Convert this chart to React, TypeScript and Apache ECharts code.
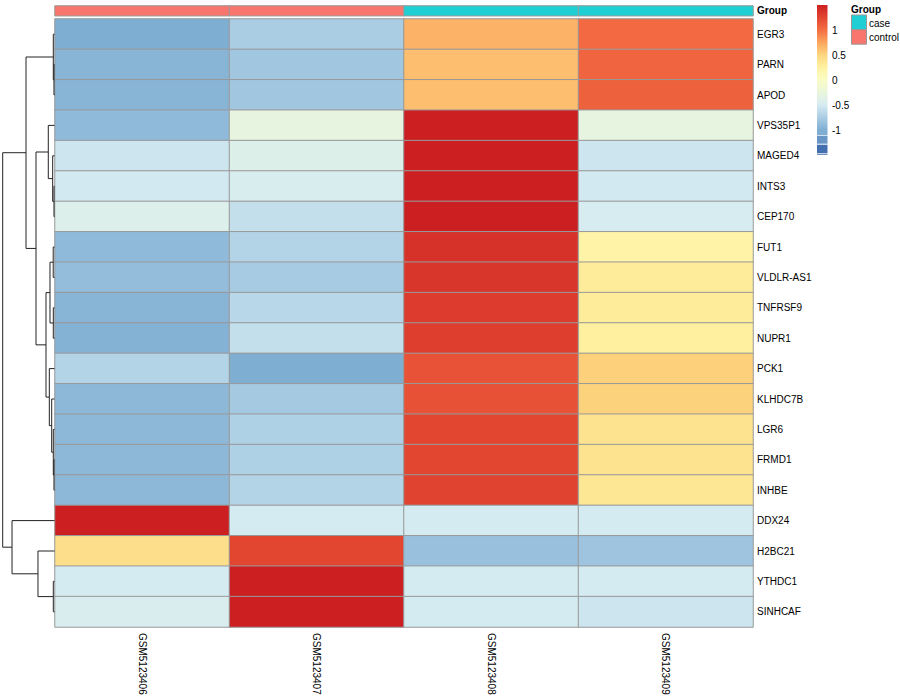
import React, { useEffect, useRef } from "react";
import * as echarts from "echarts";

const samples = ["GSM5123406", "GSM5123407", "GSM5123408", "GSM5123409"];
const groups = ["control", "control", "case", "case"];
const groupLevels = ["control", "case"];
const groupColors = ["#F8766D", "#1FCFD3"];

const genes = [
  "EGR3", "PARN", "APOD", "VPS35P1", "MAGED4", "INTS3", "CEP170", "FUT1",
  "VLDLR-AS1", "TNFRSF9", "NUPR1", "PCK1", "KLHDC7B", "LGR6", "FRMD1",
  "INHBE", "DDX24", "H2BC21", "YTHDC1", "SINHCAF",
];

// row-scaled z-scores, one array per sample (in gene order)
const gsm5123406 = [-1.0, -0.95, -0.95, -0.9, -0.55, -0.52, -0.42, -0.9, -0.88, -0.95, -0.97, -0.7, -0.92, -0.92, -0.92, -0.92, 1.5, 0.42, -0.5, -0.45];
const gsm5123407 = [-0.75, -0.8, -0.8, -0.3, -0.4, -0.46, -0.6, -0.7, -0.77, -0.67, -0.6, -1.0, -0.78, -0.72, -0.72, -0.7, -0.5, 1.25, 1.5, 1.5];
const gsm5123408 = [0.68, 0.62, 0.62, 1.5, 1.5, 1.5, 1.5, 1.38, 1.35, 1.32, 1.3, 1.17, 1.18, 1.25, 1.25, 1.27, -0.5, -0.85, -0.5, -0.5];
const gsm5123409 = [1.02, 1.06, 1.08, -0.3, -0.55, -0.52, -0.48, 0.22, 0.3, 0.3, 0.27, 0.53, 0.52, 0.39, 0.39, 0.35, -0.5, -0.82, -0.5, -0.55];
const columns = [gsm5123406, gsm5123407, gsm5123408, gsm5123409];

// row dendrogram merges: [child A, child B, height]; "mK" refers to merge K
const merges: [string, string, number][] = [
  ["PARN", "APOD", 0.1],
  ["EGR3", "m0", 0.23],
  ["INTS3", "CEP170", 0.1],
  ["MAGED4", "m2", 0.35],
  ["VPS35P1", "m3", 1.2],
  ["FUT1", "VLDLR-AS1", 0.25],
  ["TNFRSF9", "NUPR1", 0.23],
  ["m5", "m6", 0.87],
  ["FRMD1", "INHBE", 0.1],
  ["LGR6", "m8", 0.23],
  ["KLHDC7B", "m9", 0.54],
  ["PCK1", "m10", 1.0],
  ["m7", "m11", 1.64],
  ["m4", "m12", 3.57],
  ["m1", "m13", 5.5],
  ["YTHDC1", "SINHCAF", 0.23],
  ["H2BC21", "m15", 3.19],
  ["DDX24", "m16", 8.2],
  ["m14", "m17", 10],
];

// colour scale, evenly spaced from -1.5 to 1.5 (step 0.25)
const scaleMin = -1.5;
const scaleMax = 1.5;
const palette = [
  "#3A60A8", "#4A74B2", "#7FAED3", "#AACDE3", "#D5EBF2", "#EAF6DC", "#FAFCC6",
  "#FEF2A2", "#FDD680", "#FCA55E", "#F46D43", "#E24631", "#CC1F22",
];
const legendTicks = [1, 0.5, 0, -0.5, -1];
const legendGradientBottom = -1.1;
const legendBlocks = [
  { from: -1.114, to: -1.274, color: "#6A96C6" },
  { from: -1.294, to: -1.46, color: "#4470B0" },
  { from: -1.474, to: -1.494, color: "#3A60A8" },
];

const FONT = "Liberation Sans, Arial, Helvetica, sans-serif";

function buildDendro() {
  const pos: Record<string, number> = {};
  const ht: Record<string, number> = {};
  genes.forEach((g, i) => {
    pos[g] = i;
    ht[g] = 0;
  });
  const segs: number[][] = [];
  merges.forEach(([a, b, h], k) => {
    const ya = pos[a];
    const yb = pos[b];
    segs.push([h, ya, h, yb]);
    segs.push([h, ya, ht[a], ya]);
    segs.push([h, yb, ht[b], yb]);
    pos["m" + k] = (ya + yb) / 2;
    ht["m" + k] = h;
  });
  return segs;
}

export default function App() {
  const ref = useRef<HTMLDivElement>(null);
  useEffect(() => {
    if (!ref.current) return;
    const chart = echarts.init(ref.current, null, { renderer: "svg" });

    const heatData: number[][] = [];
    columns.forEach((col, ci) => col.forEach((v, ri) => heatData.push([ci, ri, v])));
    const annData = groups.map((g, i) => [i, 0, groupLevels.indexOf(g)]);

    // legend geometry (value -> y)
    const lgTop = 5;
    const lgPerUnit = 50;
    const lgX = 817;
    const lgW = 10.5;
    const yOf = (v: number) => lgTop + (scaleMax - v) * lgPerUnit;
    const step = (scaleMax - scaleMin) / (palette.length - 1);
    const span = scaleMax - legendGradientBottom;
    const stops: { offset: number; color: string }[] = [];
    palette.forEach((c, i) => {
      const v = scaleMin + i * step;
      if (v >= legendGradientBottom - 1e-9) stops.push({ offset: (scaleMax - v) / span, color: c });
    });
    stops.sort((a, b) => a.offset - b.offset);
    stops.push({ offset: 1, color: stops[stops.length - 1].color });

    const graphics: any[] = [
      {
        type: "rect",
        shape: { x: lgX, y: yOf(scaleMax), width: lgW, height: yOf(legendGradientBottom) - yOf(scaleMax) },
        style: { fill: { type: "linear", x: 0, y: 0, x2: 0, y2: 1, colorStops: stops } },
      },
      ...legendBlocks.map((b) => ({
        type: "rect",
        shape: { x: lgX, y: yOf(b.from), width: lgW, height: yOf(b.to) - yOf(b.from) },
        style: { fill: b.color },
      })),
      ...legendTicks.map((t) => ({
        type: "text",
        style: {
          text: String(t),
          x: 832,
          y: yOf(t),
          font: `10px ${FONT}`,
          fill: "#000",
          verticalAlign: "middle",
        },
      })),
      {
        type: "text",
        style: { text: "Group", x: 851, y: 9, font: `bold 10px ${FONT}`, fill: "#000", verticalAlign: "middle" },
      },
      ...["case", "control"].map((g, i) => ({
        type: "rect",
        shape: { x: 851.5, y: 15 + i * 14.6, width: 15, height: 14.6 },
        style: { fill: groupColors[groupLevels.indexOf(g)], stroke: "#999", lineWidth: 1 },
      })),
      ...["case", "control"].map((g, i) => ({
        type: "text",
        style: {
          text: g,
          x: 869,
          y: 23 + i * 14.6,
          font: `10px ${FONT}`,
          fill: "#000",
          verticalAlign: "middle",
        },
      })),
    ];

    chart.setOption({
      animation: false,
      textStyle: { fontFamily: FONT },
      grid: [
        { left: 55, top: 19, width: 698, height: 608 },
        { left: 55, top: 6, width: 698, height: 9.7 },
        { left: 2.7, top: 19, width: 51.8, height: 608 },
      ],
      xAxis: [
        {
          type: "category",
          data: samples,
          gridIndex: 0,
          position: "bottom",
          axisLine: { show: false },
          axisTick: { show: false },
          splitLine: { show: false },
          axisLabel: { rotate: -90, margin: 6, fontSize: 10, color: "#000", fontFamily: FONT },
        },
        {
          type: "category",
          data: samples,
          gridIndex: 1,
          show: false,
        },
        { type: "value", gridIndex: 2, min: 0, max: 10, inverse: true, show: false },
      ],
      yAxis: [
        {
          type: "category",
          data: genes,
          gridIndex: 0,
          inverse: true,
          position: "right",
          axisLine: { show: false },
          axisTick: { show: false },
          splitLine: { show: false },
          axisLabel: { margin: 4, fontSize: 10, color: "#000", fontFamily: FONT },
        },
        {
          type: "category",
          data: ["Group"],
          gridIndex: 1,
          position: "right",
          axisLine: { show: false },
          axisTick: { show: false },
          axisLabel: { margin: 4, fontSize: 10, fontWeight: "bold", color: "#000", fontFamily: FONT },
        },
        { type: "value", gridIndex: 2, min: -0.5, max: 19.5, inverse: true, show: false },
      ],
      visualMap: [
        {
          type: "continuous",
          min: scaleMin,
          max: scaleMax,
          seriesIndex: 0,
          show: false,
          inRange: { color: palette },
        },
        {
          type: "piecewise",
          seriesIndex: 1,
          show: false,
          pieces: groupLevels.map((g, i) => ({ value: i, color: groupColors[i] })),
        },
      ],
      series: [
        {
          type: "heatmap",
          xAxisIndex: 0,
          yAxisIndex: 0,
          data: heatData,
          itemStyle: { borderColor: "#999999", borderWidth: 1 },
          emphasis: { disabled: true },
        },
        {
          type: "heatmap",
          xAxisIndex: 1,
          yAxisIndex: 1,
          data: annData,
          itemStyle: { borderColor: "#999999", borderWidth: 1 },
          emphasis: { disabled: true },
        },
        {
          type: "custom",
          xAxisIndex: 2,
          yAxisIndex: 2,
          data: buildDendro(),
          dimensions: ["x1", "y1", "x2", "y2"],
          encode: { x: [0, 2], y: [1, 3] },
          clip: false,
          silent: true,
          renderItem: (params: any, api: any) => {
            const p1 = api.coord([api.value(0), api.value(1)]);
            const p2 = api.coord([api.value(2), api.value(3)]);
            return {
              type: "line",
              shape: { x1: p1[0], y1: p1[1], x2: p2[0], y2: p2[1] },
              style: { stroke: "#222", lineWidth: 1 },
            };
          },
        },
      ],
      graphic: graphics,
    });
    return () => chart.dispose();
  }, []);

  return (
    <div
      ref={ref}
      style={{ position: "fixed", left: 0, top: 0, width: 900, height: 700, background: "#fff" }}
    />
  );
}
